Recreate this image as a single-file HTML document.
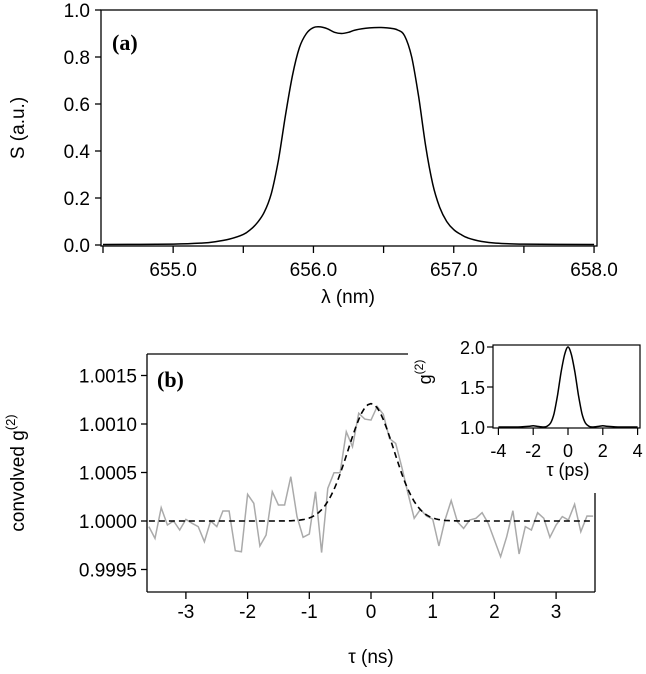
<!DOCTYPE html>
<html><head><meta charset="utf-8"><style>
html,body{margin:0;padding:0;background:#fff;}
svg text{font-family:"Liberation Sans",sans-serif;fill:#000;}
</style></head><body>
<svg id="fig" width="646" height="669" viewBox="0 0 646 669" xmlns="http://www.w3.org/2000/svg"></svg>
<script>
// Panel (a) data
const lambdaA=[654.5,655.0,655.2,655.3,655.4,655.5,655.55,655.6,655.65,655.7,655.75,655.8,655.85,655.9,655.95,656.0,656.05,656.1,656.15,656.2,656.25,656.3,656.4,656.5,656.55,656.6,656.65,656.7,656.75,656.8,656.85,656.9,656.95,657.0,657.05,657.1,657.2,657.3,657.5,658.0];
const specA=[0.002,0.004,0.008,0.014,0.025,0.045,0.065,0.095,0.14,0.22,0.36,0.55,0.72,0.84,0.9,0.925,0.928,0.92,0.905,0.9,0.905,0.915,0.924,0.925,0.922,0.915,0.89,0.8,0.63,0.42,0.26,0.16,0.1,0.065,0.045,0.03,0.015,0.008,0.004,0.002];
const xTicksA=["655.0","656.0","657.0","658.0"];
const yTicksA=["0.0","0.2","0.4","0.6","0.8","1.0"];
// Panel (b) data (deviation from 1, units of 1e-4)
const tauB=[-3.6,-3.5,-3.4,-3.3,-3.2,-3.1,-3.0,-2.9,-2.8,-2.7,-2.6,-2.5,-2.4,-2.3,-2.2,-2.1,-2.0,-1.9,-1.8,-1.7,-1.6,-1.5,-1.4,-1.3,-1.2,-1.1,-1.0,-0.9,-0.8,-0.7,-0.6,-0.5,-0.4,-0.3,-0.2,-0.1,0.0,0.1,0.2,0.3,0.4,0.5,0.6,0.7,0.8,0.9,1.0,1.1,1.2,1.3,1.4,1.5,1.6,1.7,1.8,1.9,2.0,2.1,2.2,2.3,2.4,2.5,2.6,2.7,2.8,2.9,3.0,3.1,3.2,3.3,3.4,3.5,3.6];
const g2B=[-0.58,-1.79,1.37,-0.41,0,-0.93,0.17,-0.24,-0.58,-2.13,0,-0.58,1.03,1.03,-3.06,-3.16,2.75,1.82,-2.58,-1.44,3.02,1.65,1.65,4.57,0.45,-1.68,-1.34,3.02,-3.26,3.37,4.98,4.98,9.2,7.66,11.1,10.5,10.4,11.8,11.0,8.5,8.0,5.5,2.85,0.28,1.2,0.52,0.2,-2.58,0.1,2.1,-0.07,-0.76,0.1,0.28,0.86,-0.24,-1.96,-3.68,-1.62,1.06,-3.4,-0.58,-0.93,0.86,0.28,-1.68,-0.41,0.45,0.1,1.72,-1.1,0.52,0.5];
const fitAmp=[12.1]; const fitSigma=[0.37];
const xTicksB=["-3","-2","-1","0","1","2","3"];
const yTicksB=["0.9995","1.0000","1.0005","1.0010","1.0015"];
// Inset data
const tauIn=[-4,-3,-2.2,-2,-1.8,-1.4,-1.2,-1.0,-0.8,-0.6,-0.4,-0.2,0,0.2,0.4,0.6,0.8,1.0,1.2,1.4,1.8,2,2.2,3,4];
const g2In=[1.0,1.0,1.01,1.015,1.01,1.0,1.01,1.05,1.17,1.4,1.68,1.9,2.0,1.9,1.68,1.4,1.17,1.05,1.01,1.0,1.01,1.015,1.01,1.0,1.0];
const xTicksIn=["-4","-2","0","2","4"];
const yTicksIn=["1.0","1.5","2.0"];

const NS="http://www.w3.org/2000/svg";
const svg=document.getElementById('fig');
function mk(tag,attrs,parent){const e=document.createElementNS(NS,tag);for(const k in attrs)e.setAttribute(k,attrs[k]);(parent||svg).appendChild(e);return e;}
function txt(s,x,y,size,anchor,parent){const t=mk('text',{x:x,y:y,'font-size':size,'text-anchor':anchor||'middle'},parent);t.textContent=s;return t;}
function smooth(pts){let d='M'+pts[0][0].toFixed(1)+','+pts[0][1].toFixed(1);
 for(let i=0;i<pts.length-1;i++){const p0=pts[Math.max(0,i-1)],p1=pts[i],p2=pts[i+1],p3=pts[Math.min(pts.length-1,i+2)];
  const c1=[p1[0]+(p2[0]-p0[0])/6,p1[1]+(p2[1]-p0[1])/6],c2=[p2[0]-(p3[0]-p1[0])/6,p2[1]-(p3[1]-p1[1])/6];
  d+=' C'+c1[0].toFixed(1)+','+c1[1].toFixed(1)+' '+c2[0].toFixed(1)+','+c2[1].toFixed(1)+' '+p2[0].toFixed(1)+','+p2[1].toFixed(1);}
 return d;}

// ---------- Panel A ----------
const ax=v=>103+(v-654.5)*140.3, ay=v=>245-v*235;
const gA=mk('g',{});


const frA=mk('rect',{x:101,y:10,width:496,height:236,fill:'none',stroke:'#000','stroke-width':1.3},gA);


yTicksA.forEach(s=>{const v=parseFloat(s);const y=ay(v);
 mk('line',{x1:95,x2:101,y1:y,y2:y,stroke:'#000','stroke-width':1.3},gA);
 const t=txt(s,90,y+7,19,'end',gA);
 
 });
for(let v=654.5;v<=658.01;v+=0.5){const x=ax(v);mk('line',{x1:x,x2:x,y1:246,y2:253,stroke:'#000','stroke-width':1.3},gA);}
xTicksA.forEach(s=>{const x=ax(parseFloat(s));const t=txt(s,x,276,19,'middle',gA);
 
 });
const cA=mk('path',{d:smooth(lambdaA.map((l,i)=>[ax(l),ay(specA[i])])),fill:'none',stroke:'#000','stroke-width':1.5,'stroke-linejoin':'round'},gA);


const la=mk('text',{x:112,y:50,'font-size':22,'font-weight':'bold','style':'font-family:"Liberation Serif",serif'},gA);la.textContent='(a)';


const yta=txt('S (a.u.)',0,0,19,'middle',gA);yta.setAttribute('transform','translate(24,128) rotate(-90)');


const xta=txt('λ (nm)',348,303,19,'middle',gA);



// ---------- Panel B ----------
const bx=v=>371+v*61.7, by=v=>521-v*9.7;
const gB=mk('g',{});


mk('line',{x1:147,x2:147,y1:354,y2:592,stroke:'#000','stroke-width':1.3},gB);
mk('line',{x1:147,x2:595,y1:592,y2:592,stroke:'#000','stroke-width':1.3},gB);
mk('line',{x1:147,x2:408,y1:354,y2:354,stroke:'#000','stroke-width':1.3},gB);
mk('line',{x1:595,x2:595,y1:493,y2:592,stroke:'#000','stroke-width':1.3},gB);
yTicksB.forEach(s=>{const v=(parseFloat(s)-1)*1e4;const y=by(v);
 mk('line',{x1:141,x2:147,y1:y,y2:y,stroke:'#000','stroke-width':1.3},gB);
 const t=txt(s,137,y+7,19,'end',gB);
 
 });
xTicksB.forEach(s=>{const x=bx(parseFloat(s));mk('line',{x1:x,x2:x,y1:592,y2:599,stroke:'#000','stroke-width':1.3},gB);
 const t=txt(s,x,618,19,'middle',gB);
 
 });
let dB=tauB.map((t,i)=>(i?'L':'M')+bx(t).toFixed(1)+','+by(g2B[i]).toFixed(1)).join(' ');
const cB=mk('path',{d:dB,fill:'none',stroke:'#aaa','stroke-width':1.5},gB);


let fp=[];for(let t=-3.6;t<=3.601;t+=0.05){fp.push((fp.length?'L':'M')+bx(t).toFixed(1)+','+by(fitAmp[0]*Math.exp(-t*t/(2*fitSigma[0]*fitSigma[0]))).toFixed(1));}
const fB=mk('path',{d:fp.join(' '),fill:'none',stroke:'#000','stroke-width':1.6,'stroke-dasharray':'6,4'},gB);


const lb=mk('text',{x:157,y:387,'font-size':22,'font-weight':'bold','style':'font-family:"Liberation Serif",serif'},gB);lb.textContent='(b)';


const ytb=mk('text',{'font-size':19,'text-anchor':'middle',transform:'translate(24,473) rotate(-90)'},gB);
ytb.innerHTML='convolved g<tspan dy="-9" font-size="13">(2)</tspan>';


const xtb=txt('τ (ns)',371,663,19,'middle',gB);



// ---------- Inset ----------
const ix=v=>568+v*17.4, iy=v=>427-(v-1)*80;
const gI=mk('g',{});


mk('rect',{x:493,y:345,width:147,height:83,fill:'#fff',stroke:'#000','stroke-width':1.2},gI);
yTicksIn.forEach(s=>{const y=iy(parseFloat(s));mk('line',{x1:487,x2:493,y1:y,y2:y,stroke:'#000','stroke-width':1.2},gI);
 const t=txt(s,485,y+7,18,'end',gI);
 
 });
xTicksIn.forEach(s=>{const x=ix(parseFloat(s));mk('line',{x1:x,x2:x,y1:428,y2:435,stroke:'#000','stroke-width':1.2},gI);
 const t=txt(s,x,457,18,'middle',gI);
 
 });
const cI=mk('path',{d:smooth(tauIn.map((t,i)=>[ix(t),iy(g2In[i])])),fill:'none',stroke:'#000','stroke-width':1.5,'stroke-linejoin':'round'},gI);


const yti=mk('text',{'font-size':18,'text-anchor':'middle',transform:'translate(431,372) rotate(-90)'},gI);
yti.innerHTML='g<tspan dy="-8" font-size="12">(2)</tspan>';


const xti=txt('τ (ps)',568,476,18,'middle',gI);


</script>
</body></html>
